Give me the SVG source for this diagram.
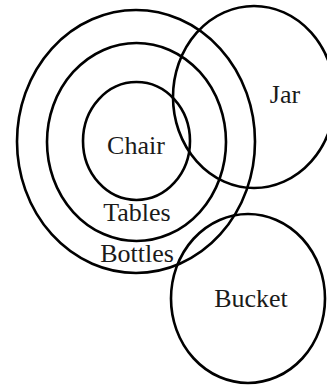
<svg xmlns="http://www.w3.org/2000/svg" width="327" height="385" viewBox="0 0 327 385">
<style>
.c{fill:none;stroke:#000;stroke-width:2.6}
.t{font-family:"Liberation Serif","Times New Roman",serif;font-size:26px;fill:#1a1a1a;text-anchor:middle}
</style>
<rect width="327" height="385" fill="#fff"/>
<g id="bottles"><ellipse class="c" cx="136" cy="141.5" rx="119" ry="131.5"/><text class="t" x="137" y="262">Bottles</text></g>
<g id="tables"><ellipse class="c" cx="136.5" cy="142" rx="89.5" ry="99"/><text class="t" x="137" y="221">Tables</text></g>
<g id="chair"><ellipse class="c" cx="136.5" cy="141" rx="53.5" ry="59"/><text class="t" x="136" y="154">Chair</text></g>
<g id="jar"><ellipse class="c" cx="254" cy="97" rx="81" ry="91"/><text class="t" x="285" y="103">Jar</text></g>
<g id="bucket"><ellipse class="c" cx="248" cy="298.5" rx="77" ry="84.5"/><text class="t" x="251" y="307">Bucket</text></g>
<g id="connectors"></g>
</svg>
